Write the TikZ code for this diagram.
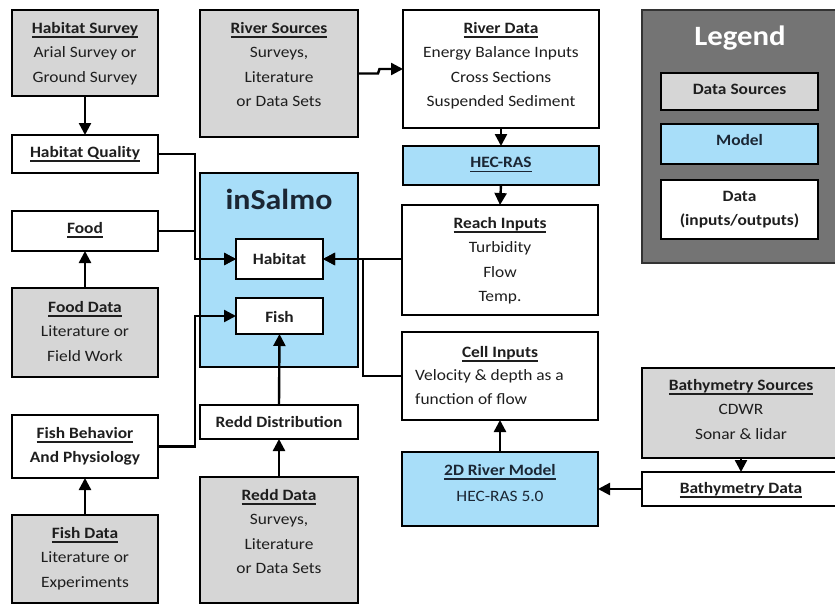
\documentclass[tikz,border=0pt]{standalone}
\usepackage{fontspec}
\setmainfont{Carlito}[FakeStretch=1.1]
\usetikzlibrary{arrows.meta}
\definecolor{gfill}{HTML}{D6D6D6}
\definecolor{bfill}{HTML}{A8DEF9}
\definecolor{lgd}{HTML}{747474}
\definecolor{ink}{HTML}{1E1E1E}
\definecolor{navy}{HTML}{1B2634}
\newcommand\hd[1]{\setbox0\hbox{\bfseries #1}\rlap{\rule[-4.5pt]{\wd0}{1.4pt}}\box0}
\newcommand\bx[6]{\node[box,#2,anchor=north west,minimum width=#5pt-#3pt,minimum height=#6pt-#4pt] (#1) at (#3,#4) {};}
\newcommand\tx[5][]{\node[txt,#1] (#2) at (#3,#4-11) {#5};}
\begin{document}
\begin{tikzpicture}[x=1pt,y=-1pt,
  box/.style={draw=black,line width=2.6pt,inner sep=0pt,outer sep=0pt},
  gbox/.style={fill=gfill},
  bbox/.style={fill=bfill},
  wbox/.style={fill=white},
  txt/.style={anchor=north,inner sep=0pt,align=center,text=ink,font=\fontsize{15.8}{24.5}\selectfont},
  arr/.style={draw=black,line width=2.4pt,-{Triangle[length=12pt,width=12pt]}},
  ln/.style={draw=black,line width=2.4pt}]
\clip (0,0) rectangle (835,606);
\fill[white] (0,0) rectangle (835,606);
% boxes
\bx{hs}{gbox}{12}{10}{158}{96}
\bx{rs}{gbox}{200}{10}{358}{137}
\bx{rd}{wbox}{403}{10}{599}{128}
\bx{hec}{bbox}{403}{146}{599}{185}
\node[box,fill=lgd,draw=black!80,line width=1.5pt,anchor=north west,minimum width=198pt,minimum height=253pt] (leg) at (642,10) {};
\bx{lds}{gbox}{661}{73}{818}{110}
\bx{lm}{bbox}{661}{124}{818}{164}
\bx{ldt}{wbox}{661}{180}{818}{239}
\bx{hq}{wbox}{12}{135}{158}{173}
\bx{ins}{bbox}{200}{173}{358}{367}
\bx{hab}{wbox}{236}{239}{323}{279}
\bx{fish}{wbox}{236}{298}{323}{334}
\bx{food}{wbox}{12}{211}{158}{251}
\bx{fdd}{gbox}{12}{288}{158}{377}
\bx{ri}{wbox}{402}{205}{598}{315}
\bx{ci}{wbox}{402}{332}{598}{420}
\bx{fb}{wbox}{12}{415}{158}{478}
\bx{fsd}{gbox}{12}{515}{158}{603}
\bx{rdist}{wbox}{200}{405}{358}{439}
\bx{rdd}{gbox}{200}{477}{358}{603}
\bx{m2d}{bbox}{402}{452}{598}{526}
\bx{bs}{gbox}{642}{368}{840}{458}
\bx{bd}{wbox}{642}{472}{840}{506}
% connectors
\draw[arr] (hs.south) -- (hq.north);
\draw[arr] (rs.east) -- ++(20,0) -- ++(1.5,-4.5) -- (rd.west);
\draw[arr] (rd.south) -- (hec.north);
\draw[arr] (hec.south) -- (ri.north);
\draw[arr] (hq.east) -- ++(37,0) |- (hab.west);
\draw[arr] (food.east) -- ++(37,0) |- (hab.west);
\draw[arr] (fb.east) -- ++(37,0) |- (fish.west);
\draw[arr] (fdd.north) -- (food.south);
\draw[arr] (fsd.north) -- (fb.south);
\draw[arr] (rdd.north) -- (rdist.south);
\draw[arr] (rdist.north) -- (fish.south);
\draw[arr] (ri.west |- hab.east) -- (hab.east);
\draw[arr] (ci.west) -- ++(-39,0) |- (hab.east);
\draw[arr] (m2d.north) -- (ci.south);
\draw[arr] (bs.south) -- (bd.north);
\draw[arr] (bd.west) -- (m2d.east);
% texts
\tx{t-hs}{85}{33}{\hd{Habitat Survey}\\Arial Survey or\\Ground Survey}
\tx{t-rs}{279}{33}{\hd{River Sources}\\Surveys,\\Literature\\or Data Sets}
\tx{t-rd}{501}{33}{\hd{River Data}\\Energy Balance Inputs\\Cross Sections\\Suspended Sediment}
\tx[text=navy]{t-hec}{501}{168}{\hd{HEC-RAS}}
\node[txt,text=white,font=\fontsize{28}{32}\selectfont\bfseries] (t-leg) at (740,26) {Legend};
\tx{t-lds}{739.5}{95}{\bfseries Data Sources}
\tx[text=navy]{t-lm}{739.5}{145}{\bfseries Model}
\tx{t-ldt}{739.5}{202}{\bfseries Data\\\bfseries (inputs/outputs)}
\tx{t-hq}{85}{157}{\hd{Habitat Quality}}
\node[txt,text=navy,font=\fontsize{29}{34}\selectfont\bfseries] (t-ins) at (279,189) {inSalmo};
\tx{t-hab}{279.5}{264}{\bfseries Habitat}
\tx{t-fish}{279.5}{322}{\bfseries Fish}
\tx{t-food}{85}{233}{\hd{Food}}
\tx{t-fdd}{85}{312}{\hd{Food Data}\\Literature or\\Field Work}
\tx{t-ri}{500}{228}{\hd{Reach Inputs}\\Turbidity\\Flow\\Temp.}
\tx{t-ci}{500}{357}{\hd{Cell Inputs}}
\node[txt,anchor=north west,align=left] (t-ci2) at (415,369) {Velocity \& depth as a\\function of flow};
\tx{t-fb}{85}{438}{\hd{Fish Behavior}\\\bfseries And Physiology}
\tx{t-fsd}{85}{538}{\hd{Fish Data}\\Literature or\\Experiments}
\tx{t-rdist}{279}{427}{\bfseries Redd Distribution}
\tx{t-rdd}{279}{500}{\hd{Redd Data}\\Surveys,\\Literature\\or Data Sets}
\tx[text=navy]{t-m2d}{500}{475}{\hd{2D River Model}\\[2pt]HEC-RAS 5.0}
\tx{t-bs}{741}{390}{\hd{Bathymetry Sources}\\CDWR\\Sonar \& lidar}
\tx{t-bd}{741}{493}{\hd{Bathymetry Data}}
\end{tikzpicture}
\end{document}
